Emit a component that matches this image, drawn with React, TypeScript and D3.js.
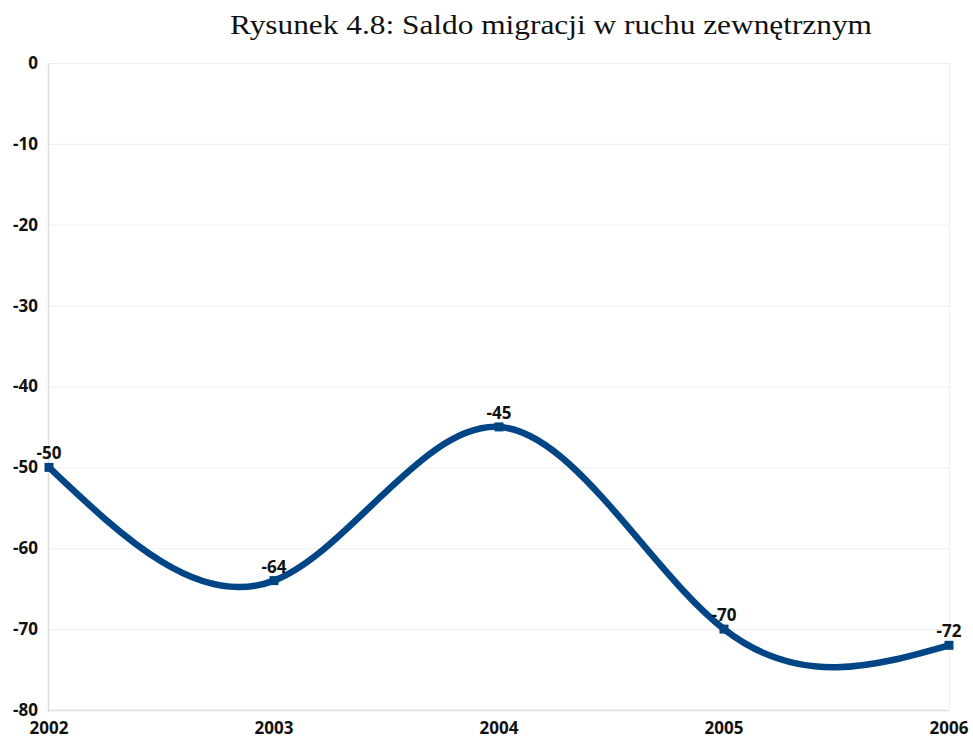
import * as d3 from "d3";
import { useEffect, useRef } from "react";

const years = [2002, 2003, 2004, 2005, 2006];
const saldo = [-50, -64, -45, -70, -72];
const yTicks = [0, -10, -20, -30, -40, -50, -60, -70, -80];
const title = "Rysunek 4.8: Saldo migracji w ruchu zewnętrznym";

function App() {
    const ref = useRef<SVGSVGElement>(null);

    useEffect(() => {
        const svg = d3.select(ref.current);
        svg.selectAll("*").remove();

        const width = 973;
        const height = 740;
        const left = 49, right = 949, top = 63, bottom = 710;
        const labelFont = "'Open Sans', 'Noto Sans', sans-serif";

        const x = d3.scaleLinear().domain([2002, 2006]).range([left, right]);
        const y = d3.scaleLinear().domain([-80, 0]).range([bottom, top]);

        svg.attr("width", width).attr("height", height);

        svg.append("text")
            .attr("x", 230)
            .attr("y", 34)
            .attr("font-family", "'Liberation Serif', 'DejaVu Serif', serif")
            .attr("font-size", 28)
            .attr("textLength", 642)
            .attr("lengthAdjust", "spacingAndGlyphs")
            .attr("fill", "#111")
            .text(title);

        // grid
        svg.append("g")
            .selectAll("line")
            .data(yTicks.filter(t => t !== -80))
            .enter()
            .append("line")
            .attr("x1", left)
            .attr("x2", right)
            .attr("y1", d => y(d) + 0.5)
            .attr("y2", d => y(d) + 0.5)
            .attr("stroke", "#eeeeee")
            .attr("stroke-width", 1);

        svg.append("line")
            .attr("x1", right + 0.5).attr("x2", right + 0.5)
            .attr("y1", top).attr("y2", bottom)
            .attr("stroke", "#eeeeee");

        svg.append("line")
            .attr("x1", left - 0.5).attr("x2", left - 0.5)
            .attr("y1", top).attr("y2", bottom + 2)
            .attr("stroke", "#dddddd")
            .attr("stroke-width", 1.5);

        svg.append("line")
            .attr("x1", left - 1).attr("x2", right)
            .attr("y1", bottom + 0.5).attr("y2", bottom + 0.5)
            .attr("stroke", "#dddddd")
            .attr("stroke-width", 1.5);

        // y labels
        svg.append("g")
            .selectAll("text")
            .data(yTicks)
            .enter()
            .append("text")
            .attr("x", 38)
            .attr("y", d => y(d))
            .attr("dy", "0.35em")
            .attr("text-anchor", "end")
            .attr("font-family", labelFont)
            .attr("font-weight", "bold")
            .attr("font-size", 17)
            .attr("fill", "#111")
            .text(d => d);

        // x labels
        svg.append("g")
            .selectAll("text")
            .data(years)
            .enter()
            .append("text")
            .attr("x", d => x(d))
            .attr("y", 734)
            .attr("text-anchor", "middle")
            .attr("font-family", labelFont)
            .attr("font-weight", "bold")
            .attr("font-size", 17)
            .attr("fill", "#111")
            .text(d => d);

        const data = years.map((yr, i) => ({ yr, v: saldo[i] }));

        const line = d3.line<{ yr: number; v: number }>()
            .x(d => x(d.yr))
            .y(d => y(d.v))
            .curve(d3.curveNatural);

        svg.append("path")
            .datum(data)
            .attr("d", line)
            .attr("fill", "none")
            .attr("stroke", "#004586")
            .attr("stroke-width", 6.5)
            .attr("stroke-linecap", "round");

        svg.append("g")
            .selectAll("rect")
            .data(data)
            .enter()
            .append("rect")
            .attr("x", d => x(d.yr) - 4.5)
            .attr("y", d => y(d.v) - 4.5)
            .attr("width", 9)
            .attr("height", 9)
            .attr("fill", "#00457f");

        svg.append("g")
            .selectAll("text")
            .data(data)
            .enter()
            .append("text")
            .attr("x", d => x(d.yr))
            .attr("y", d => y(d.v) - 8)
            .attr("text-anchor", "middle")
            .attr("font-family", labelFont)
            .attr("font-weight", "bold")
            .attr("font-size", 17)
            .attr("fill", "#111")
            .text(d => d.v);
    }, []);

    return (
        <svg ref={ref} style={{ position: "absolute", left: 0, top: 0 }}></svg>
    );
}

export default App;
